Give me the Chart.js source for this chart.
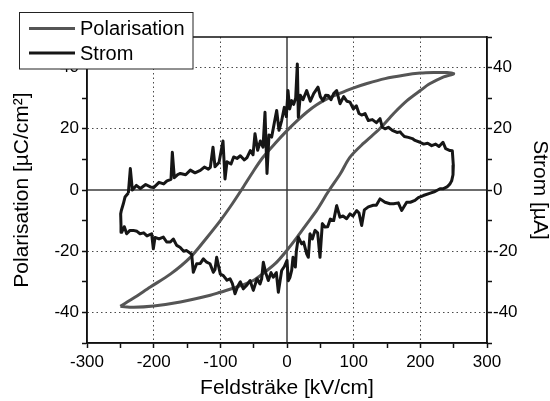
<!DOCTYPE html>
<html>
<head>
<meta charset="utf-8">
<script src="https://cdn.jsdelivr.net/npm/chart.js@4.4.0/dist/chart.umd.min.js"></script>
<style>
  html, body { margin: 0; padding: 0; background: #fff; }
  canvas { display: block; }
</style>
</head>
<body>
<canvas id="loop" width="550" height="401"></canvas>
<script>
// Polarisation hysteresis: rising branch (-250 -> 250), then falling branch back
const polFieldUp = [-250, -230, -200, -160, -115, -100, -75, -50, -30, -15, 0, 15, 30, 45, 62, 80, 94, 115, 139, 160, 180, 200, 214, 235, 250];
const polUp = [-38, -38.3, -37.9, -36.6, -34.4, -33.4, -31.7, -29.5, -26.3, -23.5, -19.7, -15.5, -11, -6.5, -0.5, 5.3, 10.6, 15.3, 20, 25, 29.2, 32.5, 34.7, 37, 38];
const polFieldDown = [240, 220, 200, 175, 147, 120, 99, 77, 60, 44, 30, 15, 0, -18, -36, -50, -66, -82, -100, -120, -145, -175, -205, -230, -250];
const polDown = [38.4, 38.4, 38.2, 37.5, 36.4, 34.8, 33.3, 31.4, 29.8, 27.8, 25.5, 22.6, 19.4, 15.2, 10.7, 6.3, 0.8, -4.5, -10, -15.5, -22, -27.5, -31.7, -35.3, -38];

// Switching current: upper trace left to right
const stromFieldUp = [
  -238, -235, -232, -226, -220, -212, -205, -200, -192, -185,
  -180, -174, -172, -169, -164, -160, -152, -145, -138, -130,
  -124, -118, -115, -111, -108, -102, -96, -93, -90, -84,
  -80, -75, -70, -64, -60, -55, -51, -48, -44, -40,
  -36, -33, -30, -27, -23, -19, -15.5, -12, -8, -4,
  -1, 1.5, 4, 7, 10, 13, 15.5, 17, 20, 24,
  29.5, 35, 40, 46.5, 50, 54, 58, 62, 66, 70,
  74.5, 79.5, 85, 90, 94.5, 99.5, 104, 108, 112, 117,
  122, 128, 134, 139.5, 143, 147, 152, 158, 165, 169.5,
  172, 176, 182, 188, 192, 199.5, 205, 211, 217, 223,
  228, 234, 238, 244.5, 248
];
const stromUp = [
  -1, 7, 0, 1.5, 0.5, 1.8, 1, 0.8, 2.5, 2,
  3, 3.5, 12.3, 4, 5, 5.4, 5, 6.5, 5.6, 6.4,
  7.5, 6.8, 7.4, 14, 7.6, 9, 16, 3.6, 9.2, 8.5,
  10.8, 10.3, 11.2, 9.8, 10.6, 12.9, 11.5, 18.4, 13, 16,
  14, 25.4, 5.4, 18, 17.3, 22, 26, 19.5, 22.7, 27,
  24, 32.5, 26.5, 29.2, 28, 30, 41.2, 23.8, 31, 29.5,
  32.5, 29, 31.5, 33.6, 30.5, 29.2, 31, 30.9, 29.5, 31.5,
  32.5, 28.2, 30.5, 29, 28.7, 26.5, 27.5, 25, 24.5, 25,
  22.7, 23, 22, 23.3, 20.5, 20, 20.5, 19.5, 18.8, 19,
  18.4, 17.5, 17.2, 16.8, 16.2, 15.6, 15, 15.3, 14.5, 15,
  14.2, 15.6, 13.5, 12.9, 12.8
];

// Switching current: turn at +250, lower trace right to left, turn at -250
const stromFieldDown = [
  249.5, 249, 247, 244.5, 240, 234, 229.5, 222, 215, 204.5,
  197, 192, 185, 179.5, 172, 167, 160, 154.5, 147, 139.5,
  134, 129.5, 122, 116, 112, 108, 104.5, 99, 94.5, 89.5,
  84, 79.5, 74.5, 70, 65, 61, 57, 53, 49.5, 46,
  42, 38, 34.5, 32, 29.5, 25, 22, 17, 14, 12.5,
  9, 7, 4.5, 2, 0, -4, -8, -13, -16, -20.5,
  -24, -28, -32, -35.5, -38, -40.5, -45, -50.5, -55.5, -60,
  -65.5, -70, -74, -78, -82, -85.5, -90, -95.5, -100, -105.5,
  -108, -110.5, -115.5, -120.5, -125.5, -130, -135.5, -140.5, -143, -150.5,
  -155, -160.5, -165.5, -170.5, -175, -180.5, -185.5, -192, -198, -200.5,
  -203, -210, -215, -220.5, -225, -230.5, -235.5, -240.5, -244, -248,
  -249, -249.5, -248.5, -245.5, -243, -238
];
const stromDown = [
  8, 5, 3, 2, 1, 0.4, 0.4, -0.5, -1, -1.8,
  -2.5, -3.4, -4, -4, -6.7, -4.2, -4.5, -4.5, -4, -2.9,
  -5, -5, -5.5, -6.5, -11.6, -7.5, -6.7, -8.5, -7.8, -9.4,
  -8.5, -8.9, -5.1, -10, -9.5, -12, -12.1, -11, -22, -14,
  -13.2, -16, -14.3, -22, -20.9, -17, -17.6, -15.4, -20, -25.2,
  -22, -26.3, -28.5, -29.6, -23, -25, -26.3, -33.4, -27, -28.5,
  -27, -29.6, -27, -23.6, -29, -30.7, -29, -32.8, -29.6, -31,
  -32.3, -30, -31.5, -33.9, -30.5, -29, -29.5, -28, -27.5, -22,
  -26, -26.9, -24.1, -23.6, -22.5, -24, -24.1, -26.9, -21, -19.8,
  -20, -18.7, -18.1, -16, -17, -17, -15.4, -16, -15.5, -19.2,
  -14.3, -15, -14, -14.3, -13.5, -13.2, -13.2, -14.3, -12, -13.8,
  -11.6, -7.8, -6.7, -4.5, -2.3, -1
];

const toPoints = (xs, ys) => xs.map((x, i) => ({ x, y: ys[i] }));

const polPoints = toPoints(polFieldUp, polUp).concat(toPoints(polFieldDown, polDown));
const stromPoints = toPoints(stromFieldUp, stromUp).concat(toPoints(stromFieldDown, stromDown));

Chart.defaults.font.family = "'Liberation Sans', Arial, sans-serif";
Chart.defaults.color = '#000';

const GRID = '#4a4a4a';

// solid zero lines under the curves, closed frame on top
const frame = {
  id: 'frame',
  beforeDatasetsDraw(chart) {
    const { ctx, chartArea: a, scales } = chart;
    const x0 = scales.x.getPixelForValue(0);
    const y0 = scales.y.getPixelForValue(0);
    ctx.save();
    ctx.strokeStyle = '#3c3c3c';
    ctx.lineWidth = 1.5;
    ctx.beginPath();
    ctx.moveTo(x0, a.top);
    ctx.lineTo(x0, a.bottom);
    ctx.moveTo(a.left, y0);
    ctx.lineTo(a.right, y0);
    ctx.stroke();
    ctx.restore();
  },
  afterDatasetsDraw(chart) {
    const { ctx, chartArea: a } = chart;
    ctx.save();
    ctx.strokeStyle = '#111';
    ctx.lineWidth = 1.5;
    ctx.strokeRect(a.left, a.top, a.right - a.left, a.bottom - a.top);
    ctx.restore();
  }
};

// boxed legend in the top-left corner, overlapping the plot
const boxLegend = {
  id: 'boxLegend',
  afterDraw(chart) {
    const { ctx } = chart;
    ctx.save();
    ctx.fillStyle = '#fff';
    ctx.fillRect(19.5, 12.5, 173.5, 56.5);
    ctx.strokeStyle = '#222';
    ctx.lineWidth = 1;
    ctx.strokeRect(19.5, 12.5, 173.5, 56.5);
    ctx.font = "20px 'Liberation Sans', Arial, sans-serif";
    ctx.textBaseline = 'middle';
    chart.data.datasets.forEach((ds, i) => {
      const y = 28.5 + i * 24.5;
      ctx.strokeStyle = ds.borderColor;
      ctx.lineWidth = ds.borderWidth;
      ctx.beginPath();
      ctx.moveTo(29, y);
      ctx.lineTo(75, y);
      ctx.stroke();
      ctx.fillStyle = '#000';
      ctx.fillText(ds.label, 80, y + 1);
    });
    ctx.restore();
  }
};

const xMajor = v => v % 100 === 0 && v !== 0 && Math.abs(v) !== 300;
const yMajor = v => v % 20 === 0 && v !== 0;

const yTicks = {
  stepSize: 10,
  font: { size: 17 },
  callback: v => (v % 20 === 0 ? String(v) : '')
};

new Chart(document.getElementById('loop'), {
  type: 'scatter',
  data: {
    datasets: [
      {
        label: 'Polarisation',
        data: polPoints,
        yAxisID: 'y',
        showLine: true,
        borderColor: '#555555',
        borderWidth: 3,
        tension: 0.3,
        pointRadius: 0,
        order: 2
      },
      {
        label: 'Strom',
        data: stromPoints,
        yAxisID: 'y2',
        showLine: true,
        borderColor: '#161616',
        borderWidth: 3,
        borderJoinStyle: 'round',
        tension: 0,
        pointRadius: 0,
        order: 1
      }
    ]
  },
  options: {
    responsive: false,
    animation: false,
    events: [],
    layout: { padding: { top: 37, left: 0, right: 0, bottom: 0 } },
    plugins: {
      legend: { display: false },
      tooltip: { enabled: false }
    },
    scales: {
      x: {
        type: 'linear',
        min: -300,
        max: 300,
        afterFit: s => { s.height = 58; },
        ticks: {
          stepSize: 50,
          autoSkip: false,
          maxRotation: 0,
          padding: 4,
          font: { size: 17 },
          callback: v => (v % 100 === 0 ? String(v) : '')
        },
        grid: {
          color: c => (c.tick && xMajor(c.tick.value) ? GRID : 'transparent'),
          tickColor: '#111',
          tickLength: 5,
          tickWidth: 1.5,
          lineWidth: 1
        },
        border: { color: '#111', width: 1.5, dash: [1.5, 3] },
        title: {
          display: true,
          text: 'Feldsträke [kV/cm]',
          font: { size: 21 },
          padding: { top: 0, bottom: 0 }
        }
      },
      y: {
        position: 'left',
        min: -50,
        max: 50,
        afterFit: s => { s.width = 87; },
        ticks: Object.assign({ padding: 3 }, yTicks),
        grid: {
          color: c => (c.tick && yMajor(c.tick.value) ? GRID : 'transparent'),
          tickColor: '#111',
          tickLength: 5,
          tickWidth: 1.5,
          lineWidth: 1
        },
        border: { color: '#111', width: 1.5, dash: [1.5, 3] },
        title: {
          display: true,
          text: 'Polarisation [µC/cm²]',
          font: { size: 21 },
          padding: { top: 10, bottom: 0 }
        }
      },
      y2: {
        position: 'right',
        min: -50,
        max: 50,
        afterFit: s => { s.width = 63; },
        ticks: Object.assign({ padding: 1 }, yTicks),
        grid: {
          drawOnChartArea: false,
          tickColor: '#111',
          tickLength: 5,
          tickWidth: 1.5
        },
        border: { color: '#111', width: 1.5 },
        title: {
          display: true,
          text: 'Strom [µA]',
          font: { size: 21, lineHeight: 1 },
          padding: { top: 0, bottom: 0 }
        }
      }
    }
  },
  plugins: [frame, boxLegend]
});
</script>
</body>
</html>
